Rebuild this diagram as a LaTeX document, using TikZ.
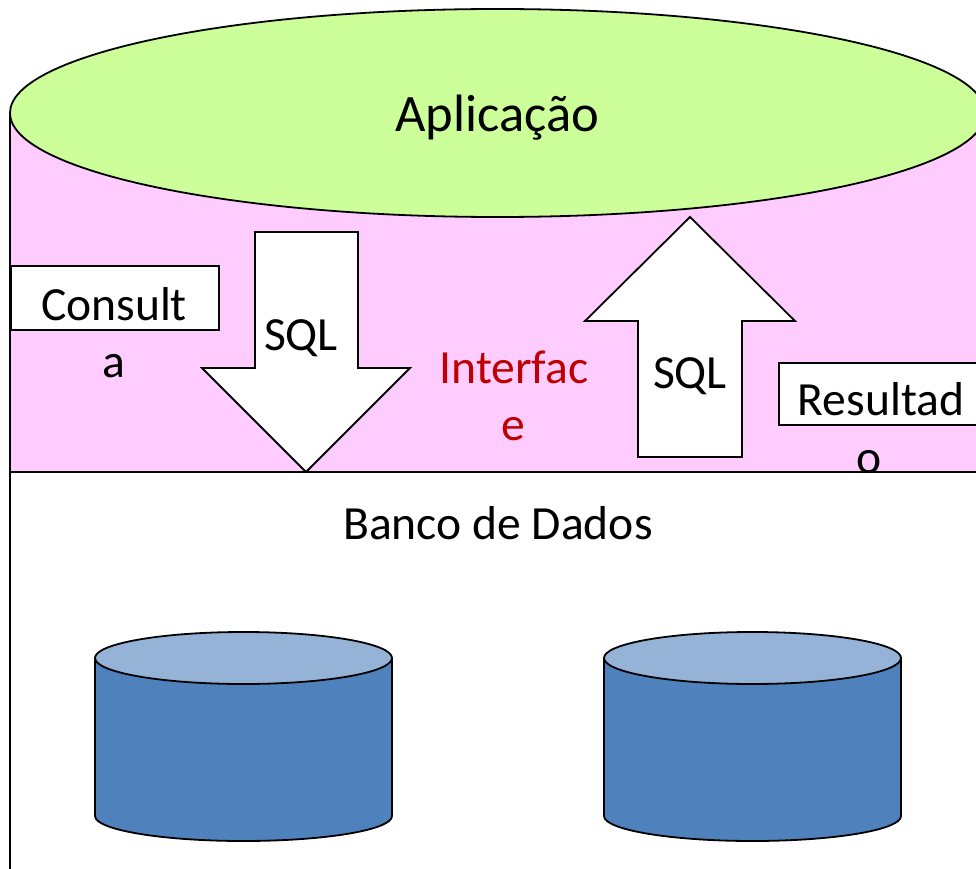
\documentclass[tikz,border=0pt]{standalone}
\usepackage{fontspec}
\setmainfont{Carlito}
\definecolor{layerpink}{HTML}{FFCCFF}
\definecolor{appgreen}{HTML}{CCFF99}
\definecolor{dbside}{HTML}{4F81BD}
\definecolor{dbtop}{HTML}{95B3D7}
\definecolor{ifred}{HTML}{C00000}
\tikzset{
  outline/.style={draw=black, line width=1.8pt, line join=miter},
  label47/.style={anchor=base, inner sep=0pt, font=\fontsize{47.6}{56}\selectfont},
  blockarrow/.style={outline, fill=white},
  textbox/.style={outline, fill=white, anchor=north west, inner sep=0pt},
}
\begin{document}
\begin{tikzpicture}[x=1pt, y=-1pt]
  \useasboundingbox (0,0) rectangle (976,869);
  \clip (0,0) rectangle (976,869);
  \fill[white] (0,0) rectangle (976,869);

  % interface layer (body of the big cylinder)
  \fill[layerpink] (10,113) rectangle (990,472);

  % application lid
  \draw[outline, fill=appgreen] (497.6,113) ellipse [x radius=487.6, y radius=104];
  \node[anchor=base, inner sep=0pt, font=\fontsize{52.6}{60}\selectfont] (app) at (497.5,132) {Aplicação};

  % request side
  \node[textbox, minimum width=208pt, minimum height=64pt] (consultabox) at (10,265) {};
  \node[label47] (consulta1) at (114,320) {Consult};
  \node[label47] (consulta2) at (114,377) {a};
  \draw[blockarrow] (255,232) -- (358,232) -- (358,368) -- (410,368) -- (306,472)
    -- (202,368) -- (255,368) -- cycle;
  \node[label47] (sqldown) at (301,350) {SQL};

  % middle label
  \node[label47, text=ifred] (interface1) at (514,383) {Interfac};
  \node[label47, text=ifred] (interface2) at (513,440) {e};

  % answer side
  \draw[blockarrow] (690,217) -- (795,321) -- (742,321) -- (742,457) -- (638,457)
    -- (638,321) -- (585,321) -- cycle;
  \node[label47] (sqlup) at (690,388) {SQL};
  \node[textbox, minimum width=230pt, minimum height=62pt] (resultadobox) at (778,362) {};
  \node[label47] (resultado1) at (881,415) {Resultad};
  \node[label47] (resultado2) at (869,473) {o};

  % database layer
  \fill[white] (10,472) rectangle (990,880);
  \draw[outline] (990,472) -- (10,472) -- (10,880);
  \draw[outline] (10,472) -- (10,113);
  \node[label47] (banco) at (498,539) {Banco de Dados};

  % two databases
  \foreach \cx/\nm in {243.5/dbleft, 752.5/dbright} {
    \draw[outline, fill=dbside] (\cx-148.5,658) -- (\cx-148.5,816)
      arc[start angle=180, end angle=0, x radius=148.5, y radius=25]
      -- (\cx+148.5,658) -- cycle;
    \draw[outline, fill=dbtop] (\cx,658) ellipse [x radius=148.5, y radius=26];
    \coordinate (\nm) at (\cx,737);
  }
\end{tikzpicture}
\end{document}
